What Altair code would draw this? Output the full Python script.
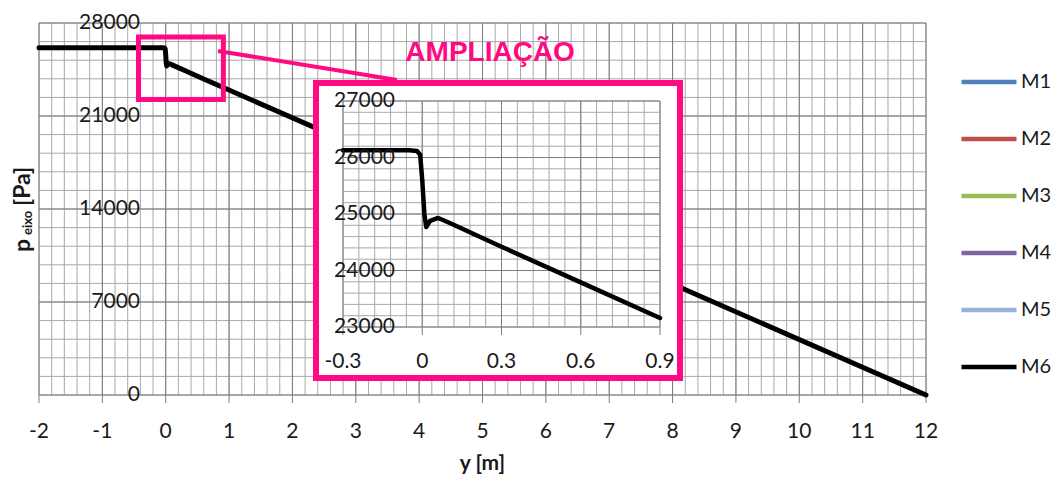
import altair as alt
import pandas as pd
import numpy as np

# ---------------- data ----------------
series_names = ["M1", "M2", "M3", "M4", "M5", "M6"]
series_colors = ["#4F81BD", "#C0504D", "#9BBB59", "#8064A2", "#95B3D7", "#000000"]

# M6 (the other series lie underneath it)
y_m = [-2.0, -0.3, -0.05, -0.02, -0.008, 0.0, 0.008, 0.015, 0.03, 0.06, 0.1, 0.3, 0.6, 0.9, 12.0]
p_m6 = [26130, 26130, 26130, 26115, 26050, 25600, 25000, 24770, 24880, 24930, 24850, 24420, 23790, 23160, 0]

# main axes
x_major = list(range(-2, 13))
x_labels = [str(v) for v in x_major]
x_minor = [round(v, 2) for v in np.arange(-2, 12.0001, 0.2)]
y_major = [0, 7000, 14000, 21000, 28000]
y_labels = ["0", "7000", "14000", "21000", "28000"]
y_minor = list(range(0, 28001, 1400))

# inset axes
ix_major = [-0.3, 0.0, 0.3, 0.6, 0.9]
ix_labels = ["-0.3", "0", "0.3", "0.6", "0.9"]
ix_minor = [round(v, 2) for v in np.arange(-0.3, 0.9001, 0.06)]
iy_major = [23000, 24000, 25000, 26000, 27000]
iy_labels = ["23000", "24000", "25000", "26000", "27000"]
iy_minor = list(range(23000, 27001, 200))

# annotations (data units of the main chart)
zoom_box = {"x": [-0.43], "x2": [0.91], "y": [22250], "y2": [26950]}
frame_box = {"x": [2.372], "x2": [8.117], "y": [1280], "y2": [23484]}
connector = {"x": [0.825], "x2": [3.65], "y": [25893], "y2": [23711]}
ampl_text = {"x": [5.12], "y": [25140], "t": ["AMPLIAÇÃO"]}

PINK = "#FF0A82"
MINOR = "#a8a8a8"
MAJOR = "#7d7d7d"
TXT = "#1a1a1a"
FONT = "Lato"

W, H = 887, 372

# ---------------- main chart ----------------
xs = alt.Scale(domain=[-2, 12], nice=False, zero=False)
ys = alt.Scale(domain=[0, 28000], nice=False, zero=False)


def X(field="x"):
    return alt.X(f"{field}:Q", scale=xs, axis=None)


def Y(field="y"):
    return alt.Y(f"{field}:Q", scale=ys, axis=None)


gx_minor = alt.Chart(pd.DataFrame({"x": x_minor})).mark_rule(color=MINOR, strokeWidth=1).encode(x=X())
gy_minor = alt.Chart(pd.DataFrame({"y": y_minor})).mark_rule(color=MINOR, strokeWidth=1).encode(y=Y())
gx_major = alt.Chart(pd.DataFrame({"x": x_major})).mark_rule(color=MAJOR, strokeWidth=1).encode(x=X())
gy_major = alt.Chart(pd.DataFrame({"y": y_major})).mark_rule(color=MAJOR, strokeWidth=1).encode(y=Y())

xticks = alt.Chart(pd.DataFrame({"x": x_major})).mark_rule(color=MAJOR, strokeWidth=1).encode(
    x=X(), y=alt.value(H), y2=alt.value(H + 8))
xlab = alt.Chart(pd.DataFrame({"x": x_major, "t": x_labels})).mark_text(
    font=FONT, fontSize=21, color=TXT, align="center", baseline="middle").encode(
    x=X(), y=alt.value(H + 37), text="t:N")
ylab = alt.Chart(pd.DataFrame({"y": y_major, "t": y_labels})).mark_text(
    font=FONT, fontSize=21, color=TXT, align="right", baseline="middle").encode(
    y=Y(), x=alt.value(101), text="t:N")
xtitle = alt.Chart(pd.DataFrame({"t": ["y [m]"]})).mark_text(
    font=FONT, fontSize=21, fontWeight="bold", color=TXT, align="center", baseline="middle").encode(
    x=alt.value(W / 2), y=alt.value(H + 69), text="t:N")

df_line = pd.DataFrame({"x": y_m, "y": p_m6, "serie": "M6"})
line_main = alt.Chart(df_line).mark_line(strokeWidth=5, strokeJoin="round", strokeCap="round").encode(
    x=X(), y=Y(),
    color=alt.Color("serie:N", scale=alt.Scale(domain=series_names, range=series_colors),
                    legend=alt.Legend(title=None, orient="none", legendX=920, legendY=29,
                                      symbolType="stroke", symbolSize=3025, symbolStrokeWidth=4.5,
                                      labelFont=FONT, labelFontSize=20, labelColor=TXT,
                                      labelOffset=2, rowPadding=17, padding=0)),
)

zoom_rect = alt.Chart(pd.DataFrame(zoom_box)).mark_rect(fill="transparent", stroke=PINK, strokeWidth=5).encode(
    x=X(), x2="x2:Q", y=Y(), y2="y2:Q")
conn = alt.Chart(pd.DataFrame(connector)).mark_rule(color=PINK, strokeWidth=4).encode(
    x=X(), x2="x2:Q", y=Y(), y2="y2:Q")
frame = alt.Chart(pd.DataFrame(frame_box)).mark_rect(fill="white", stroke=PINK, strokeWidth=6).encode(
    x=X(), x2="x2:Q", y=Y(), y2="y2:Q")
ampl = alt.Chart(pd.DataFrame(ampl_text)).mark_text(
    font="Liberation Sans", fontSize=28, fontWeight="bold", color=PINK,
    align="center", baseline="alphabetic").encode(x=X(), y=Y(), text="t:N")

# y-axis title with subscript
t_p = alt.Chart(pd.DataFrame({"t": ["p"]})).mark_text(
    font=FONT, fontSize=23, fontWeight="bold", color=TXT, angle=270, align="left",
    baseline="alphabetic").encode(x=alt.value(-9), y=alt.value(229), text="t:N")
t_sub = alt.Chart(pd.DataFrame({"t": ["eixo"]})).mark_text(
    font=FONT, fontSize=13, fontWeight="bold", color=TXT, angle=270, align="left",
    baseline="alphabetic").encode(x=alt.value(-7), y=alt.value(212), text="t:N")
t_pa = alt.Chart(pd.DataFrame({"t": ["[Pa]"]})).mark_text(
    font=FONT, fontSize=23, fontWeight="bold", color=TXT, angle=270, align="left",
    baseline="alphabetic").encode(x=alt.value(-9), y=alt.value(183), text="t:N")

main = alt.layer(gx_minor, gy_minor, gx_major, gy_major, xticks, line_main, zoom_rect, conn,
                 frame, ampl, xlab, ylab, xtitle, t_p, t_sub, t_pa)

# ---------------- inset ----------------
ixs = alt.Scale(domain=[-0.3, 0.9], range=[304, 621], nice=False, zero=False)
iys = alt.Scale(domain=[23000, 27000], range=[304, 78], nice=False, zero=False)


def IX(field="x"):
    return alt.X(f"{field}:Q", scale=ixs, axis=None)


def IY(field="y"):
    return alt.Y(f"{field}:Q", scale=iys, axis=None)


ivg_minor = alt.Chart(pd.DataFrame({"x": ix_minor, "ya": 23000, "yb": 27000})).mark_rule(
    color=MINOR, strokeWidth=1).encode(x=IX(), y=IY("ya"), y2="yb:Q")
ihg_minor = alt.Chart(pd.DataFrame({"y": iy_minor, "xa": -0.3, "xb": 0.9})).mark_rule(
    color=MINOR, strokeWidth=1).encode(y=IY(), x=IX("xa"), x2="xb:Q")
ivg_major = alt.Chart(pd.DataFrame({"x": ix_major, "ya": 23000, "yb": 27000})).mark_rule(
    color=MAJOR, strokeWidth=1).encode(x=IX(), y=IY("ya"), y2="yb:Q")
ihg_major = alt.Chart(pd.DataFrame({"y": iy_major, "xa": -0.3, "xb": 0.9})).mark_rule(
    color=MAJOR, strokeWidth=1).encode(y=IY(), x=IX("xa"), x2="xb:Q")
iticks = alt.Chart(pd.DataFrame({"x": ix_major})).mark_rule(color=MAJOR, strokeWidth=1).encode(
    x=IX(), y=alt.value(304), y2=alt.value(312))
ixlab = alt.Chart(pd.DataFrame({"x": ix_major, "t": ix_labels})).mark_text(
    font=FONT, fontSize=21, color=TXT, align="center", baseline="middle").encode(
    x=IX(), y=alt.value(339), text="t:N")
iylab = alt.Chart(pd.DataFrame({"y": iy_major, "t": iy_labels})).mark_text(
    font=FONT, fontSize=21, color=TXT, align="right", baseline="middle").encode(
    y=IY(), x=alt.value(356), text="t:N")

df_in = df_line[(df_line["x"] >= -0.3) & (df_line["x"] <= 0.9)]
iline = alt.Chart(df_in).mark_line(color="black", strokeWidth=4.5, strokeJoin="round",
                                   strokeCap="round").encode(x=IX(), y=IY())

inset = alt.layer(ivg_minor, ihg_minor, ivg_major, ihg_major, iticks, iline, ixlab, iylab)

chart = alt.layer(main, inset).resolve_scale(x="independent", y="independent").properties(
    width=W, height=H,
    autosize=alt.AutoSizeParams(type="none"),
    padding={"left": 31, "top": 15, "right": 126, "bottom": 81},
).configure_view(strokeWidth=0)

chart.save("out.html", embed_options={"renderer": "svg", "actions": False})
